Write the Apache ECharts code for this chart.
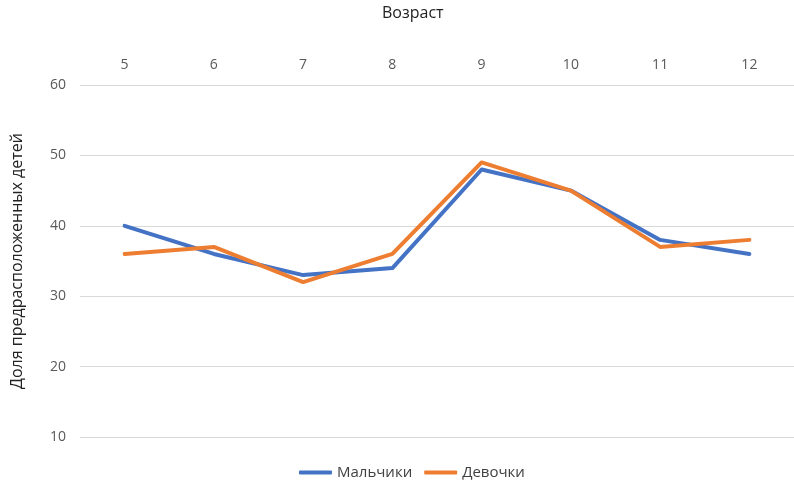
<!DOCTYPE html>
<html>
<head>
<meta charset="utf-8">
<script src="https://cdn.jsdelivr.net/npm/echarts@6/dist/echarts.min.js"></script>
<style>
  html, body { margin: 0; padding: 0; background: #fff; }
  #chart { width: 794px; height: 483px; }
</style>
</head>
<body>
<div id="chart"></div>
<script>
const ages = ['5', '6', '7', '8', '9', '10', '11', '12'];
const boys = [40, 36, 33, 34, 48, 45, 38, 36];
const girls = [36, 37, 32, 36, 49, 45, 37, 38];

const font = '"Open Sans", "Noto Sans", sans-serif';
const chart = echarts.init(document.getElementById('chart'), null, { renderer: 'canvas' });

chart.setOption({
  animation: false,
  backgroundColor: '#fff',
  textStyle: { fontFamily: font },
  title: {
    text: 'Возраст',
    left: 382,
    top: 5,
    padding: 0,
    textStyle: { fontSize: 16, fontWeight: 'normal', color: '#222', fontFamily: font }
  },
  grid: { left: 80, right: 0, top: 85, bottom: 46, containLabel: false, outerBoundsMode: 'none' },
  legend: {
    top: 465,
    left: 299,
    padding: 0,
    itemWidth: 33,
    itemHeight: 4,
    itemGap: 12,
    textStyle: { fontSize: 15, color: '#404040', fontFamily: font },
    data: [
      { name: 'Мальчики', icon: 'roundRect' },
      { name: 'Девочки', icon: 'roundRect' }
    ]
  },
  xAxis: {
    type: 'category',
    position: 'top',
    data: ages,
    boundaryGap: true,
    axisLine: { show: false },
    axisTick: { show: false },
    axisLabel: { fontSize: 14, color: '#595959', margin: 13 }
  },
  yAxis: {
    type: 'value',
    min: 10,
    max: 60,
    interval: 10,
    name: 'Доля предрасположенных детей',
    nameLocation: 'middle',
    nameRotate: 90,
    nameGap: 55,
    nameTextStyle: { fontSize: 16, color: '#222', fontFamily: font },
    axisLine: { show: false },
    axisTick: { show: false },
    axisLabel: { fontSize: 14, color: '#595959', margin: 14 },
    splitLine: { lineStyle: { color: '#d9d9d9', width: 1 } }
  },
  series: [
    {
      name: 'Мальчики',
      type: 'line',
      data: boys,
      symbol: 'none',
      color: '#4472C4',
      lineStyle: { width: 4, color: '#4472C4', cap: 'round', join: 'round' }
    },
    {
      name: 'Девочки',
      type: 'line',
      data: girls,
      symbol: 'none',
      color: '#ED7D31',
      lineStyle: { width: 4, color: '#ED7D31', cap: 'round', join: 'round' }
    }
  ]
});
</script>
</body>
</html>
